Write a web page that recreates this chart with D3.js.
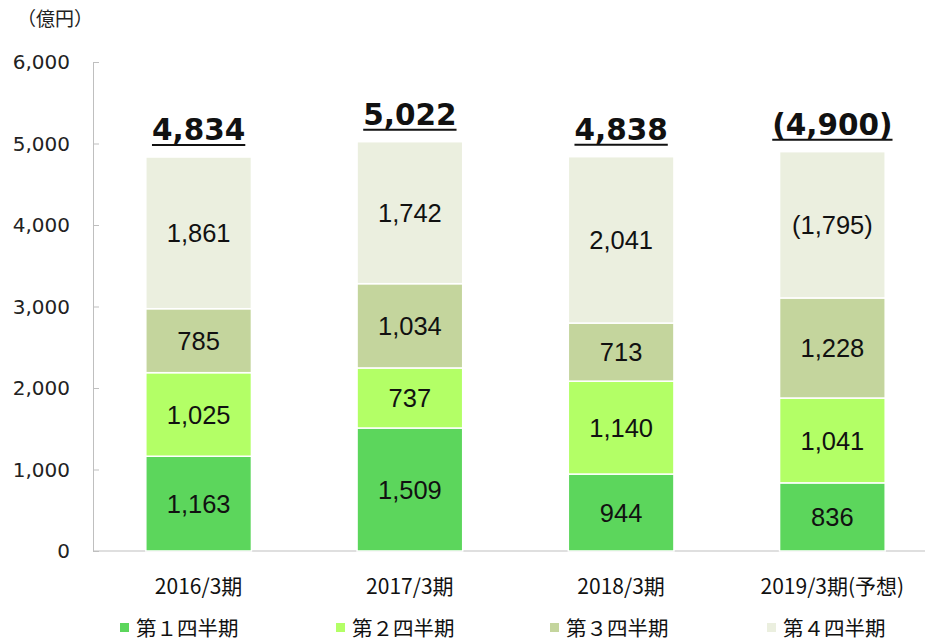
<!DOCTYPE html>
<html>
<head>
<meta charset="utf-8">
<script src="https://d3js.org/d3.v7.min.js"></script>
<style>
    body { margin: 0; background: #fff; }
    svg { display: block; }
</style>
</head>
<body>
<div id="chart"></div>
<script>
    // data (億円)
    const periods = ["2016/3期", "2017/3期", "2018/3期", "2019/3期(予想)"];
    const quarters = ["第１四半期", "第２四半期", "第３四半期", "第４四半期"];
    const q1 = [1163, 1509, 944, 836];
    const q2 = [1025, 737, 1140, 1041];
    const q3 = [785, 1034, 713, 1228];
    const q4 = [1861, 1742, 2041, 1795];
    const totals = [4834, 5022, 4838, 4900];
    const forecast = [false, false, false, true];
    const yTicks = [0, 1000, 2000, 3000, 4000, 5000, 6000];
    const colors = ["#5cd65c", "#b3ff66", "#c4d59d", "#ebefdf"];

    const width = 928, height = 642;
    const svg = d3.select("#chart").append("svg")
        .attr("width", width)
        .attr("height", height);

    const x = d3.scaleBand()
        .domain(periods)
        .range([93, 938])
        .paddingInner(0.5)
        .paddingOuter(0.25);

    const y = d3.scaleLinear()
        .domain([0, 6000])
        .range([551, 62]);

    const fmt = d3.format(",");

    // y axis
    const yAxis = svg.append("g")
        .attr("transform", "translate(93,0)")
        .call(d3.axisRight(y).tickValues(yTicks).tickSize(6).tickFormat(""));
    yAxis.select(".domain").attr("stroke", "#bfbfbf");
    yAxis.selectAll(".tick line").attr("stroke", "#bfbfbf");

    svg.append("g").selectAll("text")
        .data(yTicks)
        .join("text")
        .attr("x", 70)
        .attr("y", d => y(d))
        .attr("dy", "0.36em")
        .attr("text-anchor", "end")
        .attr("font-family", "DejaVu Sans, Verdana, sans-serif")
        .attr("font-size", 20)
        .attr("fill", "#222")
        .text(d => fmt(d));

    // baseline
    svg.append("line")
        .attr("x1", 93).attr("x2", 925)
        .attr("y1", y(0)).attr("y2", y(0))
        .attr("stroke", "#bfbfbf");

    // unit
    svg.append("text")
        .attr("x", 17).attr("y", 26)
        .attr("font-family", "Noto Sans CJK JP, sans-serif")
        .attr("font-size", 19)
        .attr("fill", "#222")
        .text("（億円）");

    // stacked bars
    const rows = periods.map((p, i) => ({ period: p, q1: q1[i], q2: q2[i], q3: q3[i], q4: q4[i] }));
    const stack = d3.stack().keys(["q1", "q2", "q3", "q4"])(rows);

    const layer = svg.append("g").selectAll("g")
        .data(stack)
        .join("g")
        .attr("fill", (d, i) => colors[i]);

    layer.selectAll("rect")
        .data(d => d)
        .join("rect")
        .attr("x", d => x(d.data.period))
        .attr("width", x.bandwidth())
        .attr("y", d => y(d[1]))
        .attr("height", d => y(d[0]) - y(d[1]))
        .attr("stroke", "#fff")
        .attr("stroke-width", 1.5);

    layer.selectAll("text")
        .data((d, li) => d.map((s, i) => ({ s, li, i })))
        .join("text")
        .attr("x", d => x(d.s.data.period) + x.bandwidth() / 2)
        .attr("y", d => (y(d.s[0]) + y(d.s[1])) / 2)
        .attr("dy", "0.36em")
        .attr("text-anchor", "middle")
        .attr("font-family", "Liberation Sans, Arial, sans-serif")
        .attr("font-size", 25.5)
        .attr("fill", "#111")
        .text(d => {
            const v = fmt(d.s[1] - d.s[0]);
            return (forecast[d.i] && d.li === 3) ? "(" + v + ")" : v;
        });

    // totals
    const tot = svg.append("g").selectAll("g")
        .data(periods)
        .join("g");

    tot.append("text")
        .attr("x", d => x(d) + x.bandwidth() / 2)
        .attr("y", (d, i) => y(totals[i]) - 17)
        .attr("text-anchor", "middle")
        .attr("font-family", "DejaVu Sans, Verdana, sans-serif")
        .attr("font-weight", "bold")
        .attr("font-size", 29.5)
        .attr("fill", "#111")
        .text((d, i) => forecast[i] ? "(" + fmt(totals[i]) + ")" : fmt(totals[i]))
        .each(function(d, i) {
            const b = this.getBBox();
            d3.select(this.parentNode).append("line")
                .attr("x1", b.x).attr("x2", b.x + b.width)
                .attr("y1", y(totals[i]) - 12).attr("y2", y(totals[i]) - 12)
                .attr("stroke", "#111")
                .attr("stroke-width", 2);
        });

    // x labels
    svg.append("g").selectAll("text")
        .data(periods)
        .join("text")
        .attr("x", d => x(d) + x.bandwidth() / 2)
        .attr("y", 586)
        .attr("dy", "0.36em")
        .attr("text-anchor", "middle")
        .attr("font-family", "Noto Sans CJK JP, sans-serif")
        .attr("font-size", 21)
        .attr("fill", "#111")
        .text(d => d);

    // legend
    const legendX = [120, 336, 550, 767];
    const lg = svg.append("g").selectAll("g")
        .data(quarters)
        .join("g")
        .attr("transform", (d, i) => `translate(${legendX[i]},629)`);
    lg.append("rect")
        .attr("x", 0).attr("y", -6)
        .attr("width", 9).attr("height", 9)
        .attr("fill", (d, i) => colors[i]);
    lg.append("text")
        .attr("x", 16)
        .attr("y", 0)
        .attr("dy", "0.36em")
        .attr("font-family", "Noto Sans CJK JP, sans-serif")
        .attr("font-size", 20.5)
        .attr("fill", "#111")
        .text(d => d);
</script>
</body>
</html>
